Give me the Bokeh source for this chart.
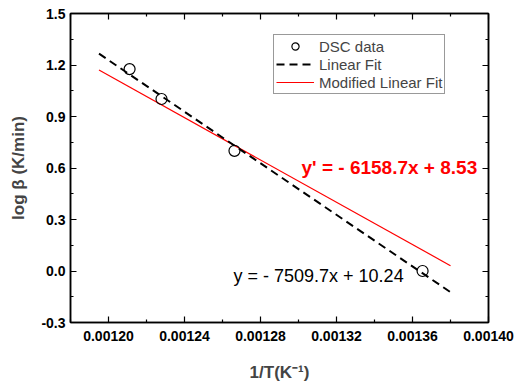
from bokeh.plotting import figure
from bokeh.models import Range1d, FixedTicker, LinearAxis, Label, Legend, LegendItem
from bokeh.embed import file_html
from bokeh.resources import INLINE

# ---- data ----
inv_T = [0.0012111, 0.0012279, 0.0012663, 0.0013653]
log_beta = [1.176, 1.002, 0.700, 0.0]

fit_x = [0.001195, 0.00138]
lin_slope, lin_int = -7509.7, 10.24
mod_slope, mod_int = -6158.7, 8.53

x_ticks = [0.00120, 0.00124, 0.00128, 0.00132, 0.00136, 0.00140]
x_tick_labels = ["0.00120", "0.00124", "0.00128", "0.00132", "0.00136", "0.00140"]
x_minor = [0.00118, 0.00122, 0.00126, 0.00130, 0.00134, 0.00138]
y_ticks = [-0.3, 0.0, 0.3, 0.6, 0.9, 1.2, 1.5]
y_tick_labels = ["-0.3", "0.0", "0.3", "0.6", "0.9", "1.2", "1.5"]
y_minor = [-0.15, 0.15, 0.45, 0.75, 1.05, 1.35]

lin_y = [lin_slope * x + lin_int for x in fit_x]
mod_y = [mod_slope * x + mod_int for x in fit_x]

FONT = "Liberation Sans"

p = figure(width=521, height=384, output_backend="svg", toolbar_location=None,
           x_range=Range1d(0.00118, 0.00140), y_range=Range1d(-0.3, 1.5),
           min_border_left=70, min_border_right=33, min_border_top=13, min_border_bottom=60,
           x_axis_location=None, y_axis_location=None)
p.xgrid.visible = False
p.ygrid.visible = False
p.outline_line_color = "black"
p.outline_line_width = 1.5
p.background_fill_color = "white"
p.border_fill_color = "white"


def style_axis(ax, show_labels, ticks, minor, labels):
    ax.ticker = FixedTicker(ticks=ticks, minor_ticks=minor)
    ax.axis_line_color = "black"
    ax.axis_line_width = 1.5
    ax.major_tick_in = 6
    ax.major_tick_out = 0
    ax.minor_tick_in = 3
    ax.minor_tick_out = 0
    ax.major_tick_line_width = 1.2
    ax.minor_tick_line_width = 1.2
    if show_labels:
        ax.major_label_overrides = {t: s for t, s in zip(ticks, labels)}
        ax.major_label_text_font = FONT
        ax.major_label_text_font_style = "bold"
        ax.major_label_text_font_size = "14px"
        ax.major_label_text_color = "black"
    else:
        ax.major_label_text_font_size = "1px"
        ax.major_label_text_color = None
        ax.major_label_standoff = 0


xb = LinearAxis()
style_axis(xb, True, x_ticks, x_minor, x_tick_labels)
xb.major_label_standoff = 8
xb.axis_label = "1/T(K⁻¹)"
xb.axis_label_text_font = FONT
xb.axis_label_text_font_style = "bold"
xb.axis_label_text_font_size = "17px"
xb.axis_label_standoff = 19
p.add_layout(xb, "below")

xt = LinearAxis()
style_axis(xt, False, x_ticks, x_minor, x_tick_labels)
p.add_layout(xt, "above")

yl = LinearAxis()
style_axis(yl, True, y_ticks, y_minor, y_tick_labels)
yl.major_label_standoff = 5
yl.axis_label = "log β (K/min)"
yl.axis_label_text_font = FONT
yl.axis_label_text_font_style = "bold"
yl.axis_label_text_font_size = "17px"
yl.axis_label_standoff = 10
p.add_layout(yl, "left")

yr = LinearAxis()
style_axis(yr, False, y_ticks, y_minor, y_tick_labels)
p.add_layout(yr, "right")

r_mod = p.line(fit_x, mod_y, line_color="red", line_width=1.2)
r_lin = p.line(fit_x, lin_y, line_color="black", line_width=2, line_dash="8 5")
r_pts = p.scatter(inv_T, log_beta, marker="circle", size=11, fill_alpha=0,
                  line_color="black", line_width=1.2)

legend = Legend(items=[
    LegendItem(label="DSC data", renderers=[r_pts]),
    LegendItem(label="Linear Fit", renderers=[r_lin]),
    LegendItem(label="Modified Linear Fit", renderers=[r_mod]),
])
legend.location = (203, 228)
legend.label_text_font = FONT
legend.label_text_font_size = "15px"
legend.border_line_color = "#333333"
legend.border_line_width = 1
legend.background_fill_color = "white"
legend.padding = 2
legend.spacing = 0
legend.margin = 0
legend.label_height = 18
legend.glyph_height = 18
legend.glyph_width = 38
legend.label_standoff = 5
p.add_layout(legend, "center")

p.add_layout(Label(x=0.0013016, y=0.603, text="y' = - 6158.7x + 8.53",
                   text_color="red", text_font=FONT, text_font_style="bold",
                   text_font_size="19px", text_baseline="middle", text_align="left"))
p.add_layout(Label(x=0.0012658, y=-0.028, text="y = - 7509.7x + 10.24",
                   text_color="black", text_font=FONT,
                   text_font_size="18px", text_baseline="middle", text_align="left"))

open("out.html", "w").write(file_html(p, INLINE))
